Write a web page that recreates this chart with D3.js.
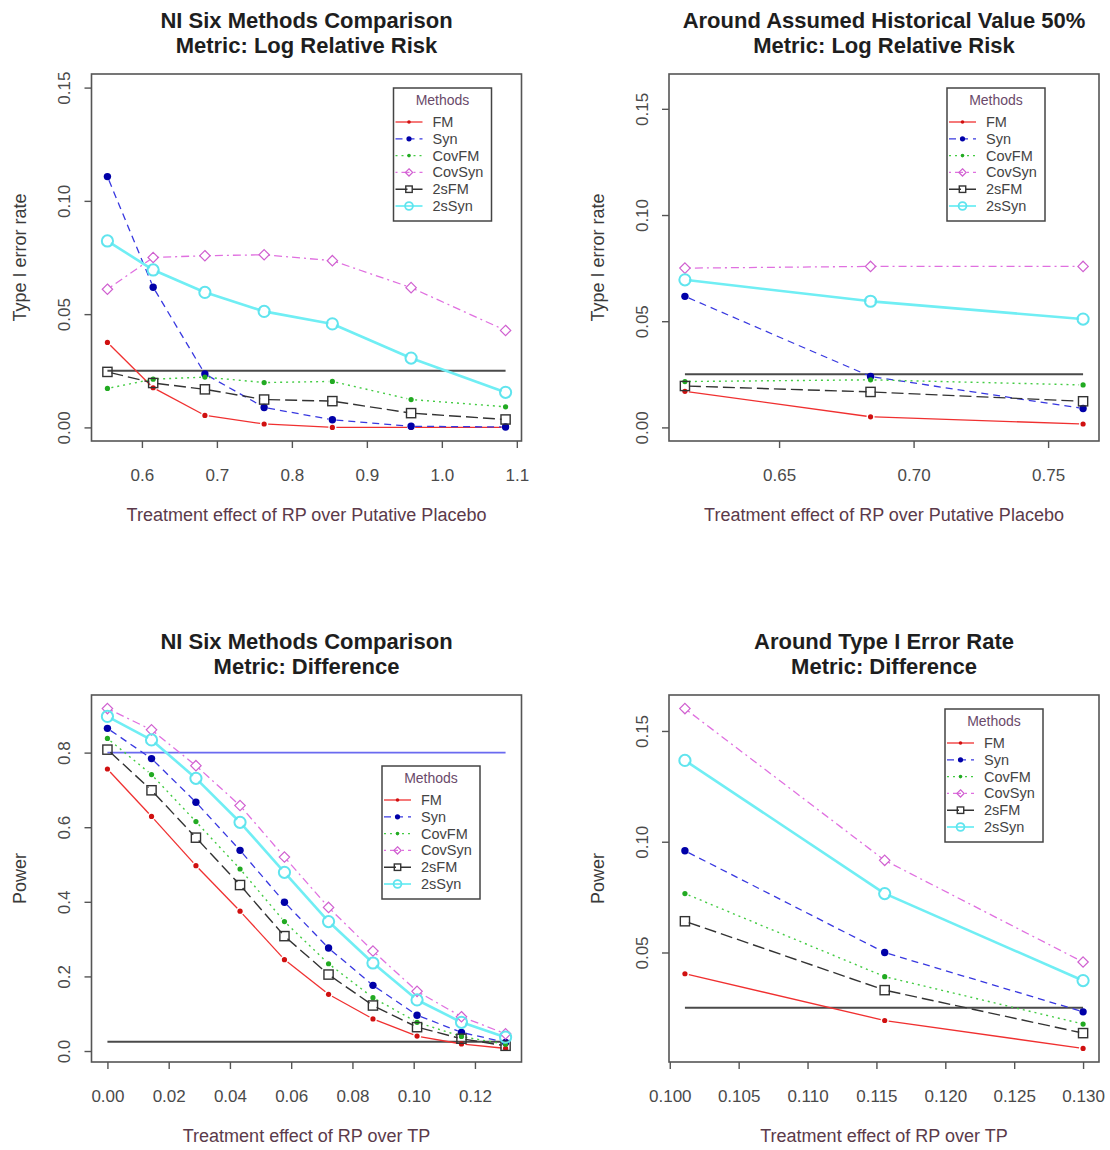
<!DOCTYPE html>
<html><head><meta charset="utf-8">
<script src="https://cdn.jsdelivr.net/npm/d3@7"></script>
<style>body{margin:0;background:#fff} text{font-family:"Liberation Sans",Arial,sans-serif}</style>
</head><body>
<script>
const methods = ["FM","Syn","CovFM","CovSyn","2sFM","2sSyn"];

// Panel 1: NI Six Methods Comparison, Log Relative Risk
const xLRR = [0.554, 0.615, 0.684, 0.763, 0.854, 0.959, 1.085];
const lrrFM     = [0.0375, 0.0175, 0.0053, 0.0015, 0.0000, 0.0000, 0.0000];
const lrrSyn    = [0.1107, 0.0619, 0.0236, 0.0088, 0.0034, 0.0005, 0.0002];
const lrrCovFM  = [0.0172, 0.0213, 0.0222, 0.0198, 0.0203, 0.0123, 0.0091];
const lrrCovSyn = [0.0610, 0.0750, 0.0758, 0.0762, 0.0736, 0.0617, 0.0428];
const lrr2sFM   = [0.0245, 0.0196, 0.0168, 0.0123, 0.0116, 0.0063, 0.0035];
const lrr2sSyn  = [0.0823, 0.0695, 0.0596, 0.0512, 0.0457, 0.0306, 0.0155];

// Panel 2: Around Assumed Historical Value 50%
const xHV = [0.615, 0.684, 0.763];
const hvFM     = [0.0170, 0.0050, 0.0016];
const hvSyn    = [0.0617, 0.0240, 0.0089];
const hvCovFM  = [0.0216, 0.0224, 0.0200];
const hvCovSyn = [0.0750, 0.0758, 0.0758];
const hv2sFM   = [0.0195, 0.0167, 0.0123];
const hv2sSyn  = [0.0695, 0.0594, 0.0510];

// Panel 3: NI Six Methods Comparison, Difference (power)
const xDiff = [0, 0.0144, 0.0289, 0.0433, 0.0578, 0.0722, 0.0867, 0.1011, 0.1156, 0.13];
const dFM     = [0.756, 0.629, 0.497, 0.375, 0.245, 0.152, 0.086, 0.040, 0.019, 0.007];
const dSyn    = [0.865, 0.784, 0.667, 0.538, 0.399, 0.276, 0.176, 0.096, 0.050, 0.023];
const dCovFM  = [0.838, 0.741, 0.615, 0.488, 0.347, 0.234, 0.143, 0.077, 0.039, 0.018];
const dCovSyn = [0.918, 0.861, 0.765, 0.658, 0.520, 0.385, 0.268, 0.160, 0.092, 0.046];
const d2sFM   = [0.808, 0.699, 0.572, 0.445, 0.308, 0.205, 0.122, 0.064, 0.033, 0.014];
const d2sSyn  = [0.897, 0.834, 0.731, 0.613, 0.479, 0.347, 0.236, 0.137, 0.077, 0.037];

// Panel 4: Around Type I Error Rate, Difference
const xT1 = [0.1011, 0.1156, 0.13];
const tFM     = [0.0404, 0.0193, 0.0067];
const tSyn    = [0.0959, 0.0500, 0.0232];
const tCovFM  = [0.0766, 0.0391, 0.0177];
const tCovSyn = [0.1601, 0.0916, 0.0457];
const t2sFM   = [0.0641, 0.0330, 0.0136];
const t2sSyn  = [0.1367, 0.0766, 0.0373];

// reference levels
const alphaLevel = 0.025;
const powerLevel = 0.8;

// tick values
const ticksX1 = [0.6, 0.7, 0.8, 0.9, 1.0, 1.1];
const ticksX2 = [0.65, 0.70, 0.75];
const ticksX3 = [0.00, 0.02, 0.04, 0.06, 0.08, 0.10, 0.12];
const ticksX4 = [0.100, 0.105, 0.110, 0.115, 0.120, 0.125, 0.130];
const ticksY12 = [0.00, 0.05, 0.10, 0.15];
const ticksY3 = [0.0, 0.2, 0.4, 0.6, 0.8];
const ticksY4 = [0.05, 0.10, 0.15];

// ---------------- drawing ----------------
const W = 430, H = 367;
const styles = [
  {line:"#f03030", pt:"#d01010", dash:null,        w:1.3, pch:"dot"},
  {line:"#3838e0", pt:"#0000a8", dash:"7,5",       w:1.3, pch:"disc"},
  {line:"#44cc44", pt:"#22aa22", dash:"2,4",       w:1.4, pch:"dot"},
  {line:"#e070e0", pt:"#d060d0", dash:"2,4,8,4",   w:1.3, pch:"diamond"},
  {line:"#333333", pt:"#333333", dash:"12,5",      w:1.4, pch:"square"},
  {line:"#70eef4", pt:"#60e4ee", dash:null,        w:2.6, pch:"ring"}
];

const svg = d3.select("body").append("svg").attr("width",1110).attr("height",1150);

function ext(lo, hi){ const r = hi - lo; return [lo - 0.04*r, hi + 0.04*r]; }

function marker(g, pch, cx, cy, col, k){
  k = k || 1;
  if (pch === "dot") g.append("circle").attr("cx",cx).attr("cy",cy).attr("r",2.6*k).attr("fill",col);
  else if (pch === "disc") g.append("circle").attr("cx",cx).attr("cy",cy).attr("r",3.7*k).attr("fill",col);
  else if (pch === "diamond") { const d = 5.2*k; g.append("path")
      .attr("d",`M${cx},${cy-d}L${cx+d},${cy}L${cx},${cy+d}L${cx-d},${cy}Z`)
      .attr("fill","none").attr("stroke",col).attr("stroke-width",1.2); }
  else if (pch === "square") { const h = 4.6*k; g.append("rect").attr("x",cx-h).attr("y",cy-h).attr("width",2*h).attr("height",2*h)
      .attr("fill","none").attr("stroke",col).attr("stroke-width",1.4); }
  else if (pch === "ring") g.append("circle").attr("cx",cx).attr("cy",cy).attr("r",5.6*k)
      .attr("fill","none").attr("stroke",col).attr("stroke-width",2*Math.min(1,k+0.2));
}

function drawPanel(o){
  const g = svg.append("g").attr("transform",`translate(${o.left},${o.top})`);
  const xDom = ext(d3.min(o.x), d3.max(o.x));
  const yDom = o.ylim ? ext(o.ylim[0], o.ylim[1]) : ext(d3.min(o.series.flat()), d3.max(o.series.flat()));
  const x = d3.scaleLinear().domain(xDom).range([0, W]);
  const y = d3.scaleLinear().domain(yDom).range([H, 0]);

  o.title.forEach((t, i) => {
    g.append("text").attr("x", W/2).attr("y", i === 0 ? -46 : -21)
      .attr("text-anchor","middle").attr("font-size",22).attr("font-weight","bold")
      .attr("fill","#1e1e1e").text(t);
  });

  const xa = g.append("g").attr("transform",`translate(0,${H})`)
    .call(d3.axisBottom(x).tickValues(o.xTicks).tickFormat(d3.format(o.xFmt)).tickSizeOuter(0).tickSize(7));
  xa.select(".domain").remove();
  xa.selectAll(".tick line").attr("stroke","#555").attr("stroke-width",1.4);
  xa.selectAll(".tick text").attr("y",40).attr("dy",0).attr("font-size",17)
    .attr("fill","#4a4a4a").attr("font-family",null);

  const ya = g.append("g")
    .call(d3.axisLeft(y).tickValues(o.yTicks).tickFormat(d3.format(o.yFmt)).tickSizeOuter(0).tickSize(7));
  ya.select(".domain").remove();
  ya.selectAll(".tick line").attr("stroke","#555").attr("stroke-width",1.4);
  ya.selectAll(".tick text").attr("x",null).attr("dy",null).attr("y",null)
    .attr("transform","translate(-21.5,0) rotate(-90)").attr("text-anchor","middle")
    .attr("font-size",17).attr("fill","#4a4a4a").attr("font-family",null);

  g.append("text").attr("x", W/2).attr("y", H + 80).attr("text-anchor","middle")
    .attr("font-size",18).attr("fill","#5b3a4a").text(o.xlab);
  g.append("text").attr("transform",`translate(-65.5,${H/2}) rotate(-90)`).attr("text-anchor","middle")
    .attr("font-size",18).attr("fill","#3a3a3a").text(o.ylab);

  const x0 = d3.min(o.x), x1 = d3.max(o.x);
  o.refs.forEach(r => {
    g.append("line").attr("x1",x(x0)).attr("x2",x(x1)).attr("y1",y(r.v)).attr("y2",y(r.v))
      .attr("stroke",r.col).attr("stroke-width",r.w);
  });

  const gap = 4;
  o.series.forEach((vals, si) => {
    const s = styles[si];
    for (let i = 0; i < vals.length - 1; i++){
      const ax = x(o.x[i]), ay = y(vals[i]), bx = x(o.x[i+1]), by = y(vals[i+1]);
      const L = Math.hypot(bx-ax, by-ay);
      if (L <= 2*gap) continue;
      const ux = (bx-ax)/L, uy = (by-ay)/L;
      const ln = g.append("line").attr("x1",ax+ux*gap).attr("y1",ay+uy*gap)
        .attr("x2",bx-ux*gap).attr("y2",by-uy*gap)
        .attr("stroke",s.line).attr("stroke-width",s.w);
      if (s.dash) ln.attr("stroke-dasharray",s.dash);
    }
  });
  o.series.forEach((vals, si) => {
    const s = styles[si];
    vals.forEach((v, i) => marker(g, s.pch, x(o.x[i]), y(v), s.pt));
  });

  g.append("rect").attr("x",0).attr("y",0).attr("width",W).attr("height",H)
    .attr("fill","none").attr("stroke","#555").attr("stroke-width",1.6);

  const lg = g.append("g").attr("transform",`translate(${o.leg[0]},${o.leg[1]})`);
  lg.append("rect").attr("width",98).attr("height",133).attr("fill","#fff")
    .attr("stroke","#444").attr("stroke-width",1.5);
  lg.append("text").attr("x",49).attr("y",17).attr("text-anchor","middle")
    .attr("font-size",14).attr("fill","#6a4a6a").text("Methods");
  methods.forEach((m, i) => {
    const s = styles[i];
    const cy = 34 + i*16.8;
    const ln = lg.append("line").attr("x1",2).attr("x2",29).attr("y1",cy).attr("y2",cy)
      .attr("stroke",s.line).attr("stroke-width",Math.min(s.w,1.8));
    if (s.dash) ln.attr("stroke-dasharray",s.dash);
    marker(lg, s.pch, 15.5, cy, s.pt, 0.7);
    lg.append("text").attr("x",39).attr("y",cy+5).attr("font-size",14.5).attr("fill","#444").text(m);
  });
}

const grey = "#4a4a4a";
drawPanel({left:91.5, top:74, x:xLRR,
  series:[lrrFM, lrrSyn, lrrCovFM, lrrCovSyn, lrr2sFM, lrr2sSyn],
  ylim:[0, 0.15], xTicks:ticksX1, yTicks:ticksY12, xFmt:".1f", yFmt:".2f",
  title:["NI Six Methods Comparison","Metric: Log Relative Risk"],
  xlab:"Treatment effect of RP over Putative Placebo", ylab:"Type I error rate",
  refs:[{v:alphaLevel, col:grey, w:2}], leg:[302, 14]});

drawPanel({left:669, top:74, x:xHV,
  series:[hvFM, hvSyn, hvCovFM, hvCovSyn, hv2sFM, hv2sSyn],
  ylim:[0, 0.16], xTicks:ticksX2, yTicks:ticksY12, xFmt:".2f", yFmt:".2f",
  title:["Around Assumed Historical Value 50%","Metric: Log Relative Risk"],
  xlab:"Treatment effect of RP over Putative Placebo", ylab:"Type I error rate",
  refs:[{v:alphaLevel, col:grey, w:2}], leg:[278, 14]});

drawPanel({left:91.5, top:695, x:xDiff,
  series:[dFM, dSyn, dCovFM, dCovSyn, d2sFM, d2sSyn],
  ylim:null, xTicks:ticksX3, yTicks:ticksY3, xFmt:".2f", yFmt:".1f",
  title:["NI Six Methods Comparison","Metric: Difference"],
  xlab:"Treatment effect of RP over TP", ylab:"Power",
  refs:[{v:powerLevel, col:"#6a6af0", w:1.8},{v:alphaLevel, col:grey, w:2}], leg:[290.5, 71]});

drawPanel({left:669, top:695, x:xT1,
  series:[tFM, tSyn, tCovFM, tCovSyn, t2sFM, t2sSyn],
  ylim:null, xTicks:ticksX4, yTicks:ticksY4, xFmt:".3f", yFmt:".2f",
  title:["Around Type I Error Rate","Metric: Difference"],
  xlab:"Treatment effect of RP over TP", ylab:"Power",
  refs:[{v:alphaLevel, col:grey, w:2}], leg:[276, 14]});
</script>
</body></html>
